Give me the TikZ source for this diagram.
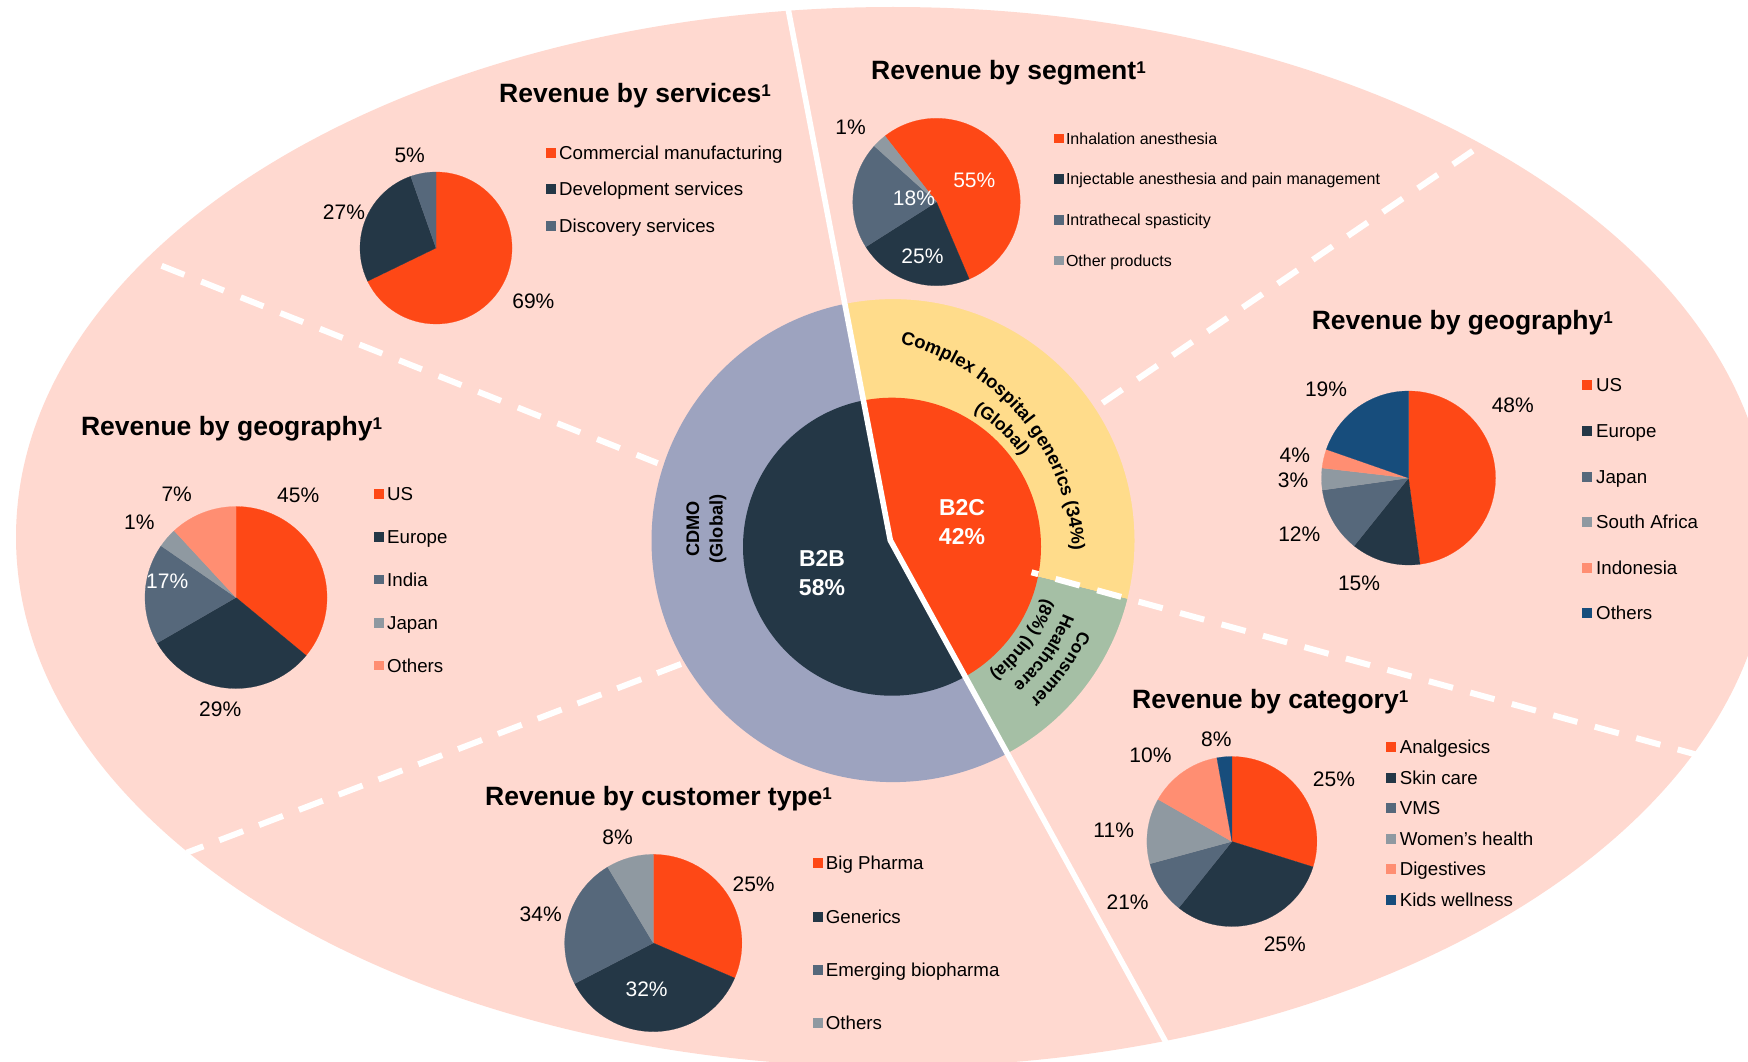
\documentclass[tikz,border=0pt]{standalone}
\usepackage{fontspec}
\setmainfont{Liberation Sans}
\usetikzlibrary{decorations.text}
\definecolor{bgpink}{HTML}{FFD9D0}
\definecolor{cOrange}{HTML}{FE4816}
\definecolor{cNavy}{HTML}{243746}
\definecolor{cSlate}{HTML}{56687B}
\definecolor{cGrey}{HTML}{8F99A1}
\definecolor{cSalmon}{HTML}{FF8E72}
\definecolor{cBlue}{HTML}{174D7C}
\definecolor{cLav}{HTML}{9DA3BF}
\definecolor{cYellow}{HTML}{FFDC8B}
\definecolor{cGreen}{HTML}{A5BFA5}
\newcommand\fsz[1]{\fontsize{#1}{#1}\selectfont}
\newcommand\ringfont{\fsz{18.4}\bfseries}
\newcommand\globfont{\fsz{17.6}\bfseries}
\newcommand\greenfont{\fsz{17.4}\bfseries}
\newcommand\titlesup{\raisebox{6pt}{\fsz{17}\bfseries 1}}
\newcommand\pieslices[3]{%
  \foreach \angA/\angB/\colS in {#3}{%
    \filldraw[draw=\colS,fill=\colS,line width=.2pt] (#1) -- +(\angA:#2pt)
      arc[start angle=\angA,end angle=\angB,radius=#2pt] -- cycle;}}
\newcommand\legitem[7]{%
  \node[sq,fill=#4] (#1s) at (#2,#3) {};
  \node[#6,xshift=#5pt] (#1t) at (#1s) {#7};}
\tikzset{
  titlelab/.style={anchor=base west,inner sep=0pt,font=\fsz{26.5}\bfseries,yshift=-1pt},
  pct/.style={inner sep=0pt,font=\fsz{21},text height=15pt,text depth=0pt},
  pctw/.style={pct,text=white},
  sq/.style={inner sep=0pt,minimum size=9.8pt,draw=none},
  lega/.style={anchor=base west,inner sep=0pt,font=\fsz{18.7},yshift=-6.6pt},
  legb/.style={anchor=base west,inner sep=0pt,font=\fsz{16},yshift=-5.6pt},
  solidsep/.style={draw=white,line width=5.6pt,line join=miter},
  dashsep/.style={draw=white,line width=6pt},
  centrelab/.style={align=center,inner sep=0pt,text=white,font=\fsz{23}\bfseries,execute at begin node={\baselineskip=29pt}},
  cdmolab/.style={align=center,inner sep=0pt,rotate=90,font=\fsz{18.2}\bfseries,execute at begin node={\baselineskip=23.5pt}},
}
\begin{document}
\begin{tikzpicture}[x=1pt,y=-1pt]
\useasboundingbox (0,0) rectangle (1748,1062);
\clip (0,0) rectangle (1748,1062);
\fill[bgpink] (893,537) ellipse [x radius=877pt,y radius=530pt];

\coordinate (lnTop) at (787.7,6.7);
\coordinate (pivot) at (890.3,540.3);
\coordinate (lnBot) at (1170,1049.7);
\coordinate (cornA) at (1748,1062);
\coordinate (cornB) at (1748,0);
\coordinate (ringC) at (893,540.6);
\coordinate (innerC) at (892,546.7);

\fill[cLav] (ringC) circle [radius=241.5pt];
\fill[cNavy] (innerC) circle [radius=149pt];
\begin{scope}
  \clip (lnTop) -- (pivot) -- (lnBot) -- (cornA) -- (cornB) -- cycle;
  \fill[cYellow] (ringC) -- +(-14:260pt) arc[start angle=-14,end angle=125,radius=260pt] -- cycle;
  \fill[cGreen] (ringC) -- +(-14:260pt) arc[start angle=-14,end angle=-100,radius=260pt] -- cycle;
  \fill[bgpink,even odd rule] (ringC) circle [radius=241.5pt] (ringC) circle [radius=270pt];
  \fill[cOrange] (innerC) circle [radius=149pt];
\end{scope}

\draw[solidsep] (lnTop) -- (pivot) -- (lnBot);
\coordinate (dA1) at (1031.5,572.3);
\coordinate (dA2) at (1696,754.5);
\coordinate (dB1) at (1102.5,403);
\coordinate (dB2) at (1473,150.7);
\coordinate (dC1) at (161.6,265.8);
\coordinate (dC2) at (657.7,463.2);
\coordinate (dD1) at (681,664);
\coordinate (dD2) at (186.7,852.7);
\draw[dashsep,dash pattern=on 25pt off 18pt,dash phase=18pt] (dA1) -- (dA2);
\draw[dashsep,dash pattern=on 24pt off 18.4pt] (dB1) -- (dB2);
\draw[dashsep,dash pattern=on 24.5pt off 18.1pt] (dC1) -- (dC2);
\draw[dashsep,dash pattern=on 25.6pt off 17pt] (dD1) -- (dD2);

\node[centrelab] (b2c) at (962,522.5) {B2C\\42\%};
\node[centrelab] (b2b) at (822,572.7) {B2B\\58\%};
\node[cdmolab] (cdmo) at (706.5,529) {CDMO\\(Global)};

\coordinate (arcC) at (846.2,563.4);
\path[decorate,decoration={text along path,text align=center,
   text={|\ringfont|Complex hospital generics (34{\%})}}]
  ([shift={(79.5:226.5pt)}]arcC) arc[start angle=79.5,end angle=0,radius=226.5pt];
\path[decorate,decoration={text along path,text align=center,
   text={|\globfont|(Global)}}]
  ([shift={(65:158pt)}]innerC) arc[start angle=65,end angle=29,radius=158pt];
\path[decorate,decoration={text along path,text align=center,
   text={|\greenfont|Consumer}}]
  ([shift={(-18:206pt)}]innerC) arc[start angle=-18,end angle=-54,radius=206pt];
\path[decorate,decoration={text along path,text align=center,
   text={|\greenfont|Healthcare}}]
  ([shift={(-15:184pt)}]innerC) arc[start angle=-15,end angle=-55,radius=184pt];
\path[decorate,decoration={text along path,text align=center,
   text={|\greenfont|(8{\%}) (India)}}]
  ([shift={(-12:160pt)}]innerC) arc[start angle=-12,end angle=-59,radius=160pt];

\node[titlelab] (tServ) at (499,101.6) {Revenue by services\titlesup};
\coordinate (pServ) at (436,248);
\pieslices{pServ}{76}{90/-154.1/cOrange,205.9/109.4/cNavy,109.4/90/cSlate}
\node[pct] (sv1) at (409.7,155) {5\%};
\node[pct] (sv2) at (344,211.7) {27\%};
\node[pct] (sv3) at (533.4,300.7) {69\%};
\legitem{lsv1}{551}{153}{cOrange}{8}{lega}{Commercial manufacturing}
\legitem{lsv2}{551}{189}{cNavy}{8}{lega}{Development services}
\legitem{lsv3}{551}{226}{cSlate}{8}{lega}{Discovery services}

\node[titlelab] (tSeg) at (871,78.6) {Revenue by segment\titlesup};
\coordinate (pSeg) at (936.5,202);
\pieslices{pSeg}{83.7}{128/-67/cOrange,293/212.4/cNavy,212.4/138/cSlate,138/128/cGrey}
\node[pct] (sg1) at (850.6,127) {1\%};
\node[pctw] (sg2) at (914,198.4) {18\%};
\node[pctw] (sg3) at (974.3,179.8) {55\%};
\node[pctw] (sg4) at (922.5,255.7) {25\%};
\legitem{lsg1}{1058.8}{138.5}{cOrange}{7}{legb}{Inhalation anesthesia}
\legitem{lsg2}{1058.8}{179}{cNavy}{7}{legb}{Injectable anesthesia and pain management}
\legitem{lsg3}{1058.8}{219.8}{cSlate}{7}{legb}{Intrathecal spasticity}
\legitem{lsg4}{1058.8}{260.4}{cGrey}{7}{legb}{Other products}

\node[titlelab] (tGeoR) at (1311.6,328.5) {Revenue by geography\titlesup};
\coordinate (pGeoR) at (1408.5,478);
\pieslices{pGeoR}{87}{90/-82.4/cOrange,277.6/231.3/cNavy,231.3/188/cSlate,188/173.4/cGrey,173.4/160.8/cSalmon,160.8/90/cBlue}
\node[pct] (gr1) at (1512.8,405) {48\%};
\node[pct] (gr2) at (1326,388.8) {19\%};
\node[pct] (gr3) at (1294.8,454.8) {4\%};
\node[pct] (gr4) at (1293,479.9) {3\%};
\node[pct] (gr5) at (1299.3,534.4) {12\%};
\node[pct] (gr6) at (1359,582.8) {15\%};
\legitem{lgr1}{1587}{385}{cOrange}{9}{lega}{US}
\legitem{lgr2}{1587}{431}{cNavy}{9}{lega}{Europe}
\legitem{lgr3}{1587}{476.8}{cSlate}{9}{lega}{Japan}
\legitem{lgr4}{1587}{521.8}{cGrey}{9}{lega}{South Africa}
\legitem{lgr5}{1587}{568}{cSalmon}{9}{lega}{Indonesia}
\legitem{lgr6}{1587}{613}{cBlue}{9}{lega}{Others}

\node[titlelab] (tGeoL) at (80.8,434.5) {Revenue by geography\titlesup};
\coordinate (pGeoL) at (236,597.5);
\pieslices{pGeoL}{91}{90/-39.6/cOrange,320.4/210/cNavy,210/145.4/cSlate,145.4/132.8/cGrey,132.8/90/cSalmon}
\node[pct] (gl1) at (298.2,495.4) {45\%};
\node[pct] (gl2) at (176.7,493.7) {7\%};
\node[pct] (gl3) at (139.4,521.5) {1\%};
\node[pctw] (gl4) at (167.2,580.8) {17\%};
\node[pct] (gl5) at (220.2,708.8) {29\%};
\legitem{lgl1}{379}{494}{cOrange}{8}{lega}{US}
\legitem{lgl2}{379}{537}{cNavy}{8}{lega}{Europe}
\legitem{lgl3}{379}{579.4}{cSlate}{8}{lega}{India}
\legitem{lgl4}{379}{622.8}{cGrey}{8}{lega}{Japan}
\legitem{lgl5}{379}{665.4}{cSalmon}{8}{lega}{Others}

\node[titlelab] (tCust) at (485,804.6) {Revenue by customer type\titlesup};
\coordinate (pCust) at (653.3,943);
\pieslices{pCust}{88.6}{90/-23.3/cOrange,336.7/207.3/cNavy,207.3/121/cSlate,121/90/cGrey}
\node[pct] (cu1) at (617.6,836.8) {8\%};
\node[pct] (cu2) at (753.6,883.9) {25\%};
\node[pct] (cu3) at (540.7,914) {34\%};
\node[pctw] (cu4) at (646.6,988.8) {32\%};
\legitem{lcu1}{817.7}{862.9}{cOrange}{8}{lega}{Big Pharma}
\legitem{lcu2}{817.7}{917}{cNavy}{8}{lega}{Generics}
\legitem{lcu3}{817.7}{970}{cSlate}{8}{lega}{Emerging biopharma}
\legitem{lcu4}{817.7}{1023}{cGrey}{8}{lega}{Others}

\node[titlelab,yshift=1pt] (tCat) at (1132,708) {Revenue by category\titlesup};
\coordinate (pCat) at (1231.9,841.5);
\pieslices{pCat}{85}{90/-17.4/cOrange,342.6/231.3/cNavy,231.3/195.2/cSlate,195.2/150.3/cGrey,150.3/100.2/cSalmon,100.2/90/cBlue}
\node[pct] (ca1) at (1216.3,738.6) {8\%};
\node[pct] (ca2) at (1150.5,754.8) {10\%};
\node[pct] (ca3) at (1333.9,778.9) {25\%};
\node[pct] (ca4) at (1113.7,830) {11\%};
\node[pct] (ca5) at (1127.6,901.8) {21\%};
\node[pct] (ca6) at (1284.8,943.8) {25\%};
\legitem{lca1}{1391}{746.7}{cOrange}{8.6}{lega}{Analgesics}
\legitem{lca2}{1391}{778.2}{cNavy}{8.6}{lega}{Skin care}
\legitem{lca3}{1391}{807.7}{cSlate}{8.6}{lega}{VMS}
\legitem{lca4}{1391}{838.8}{cGrey}{8.6}{lega}{Women's health}
\legitem{lca5}{1391}{869}{cSalmon}{8.6}{lega}{Digestives}
\legitem{lca6}{1391}{899.8}{cBlue}{8.6}{lega}{Kids wellness}
\end{tikzpicture}
\end{document}
